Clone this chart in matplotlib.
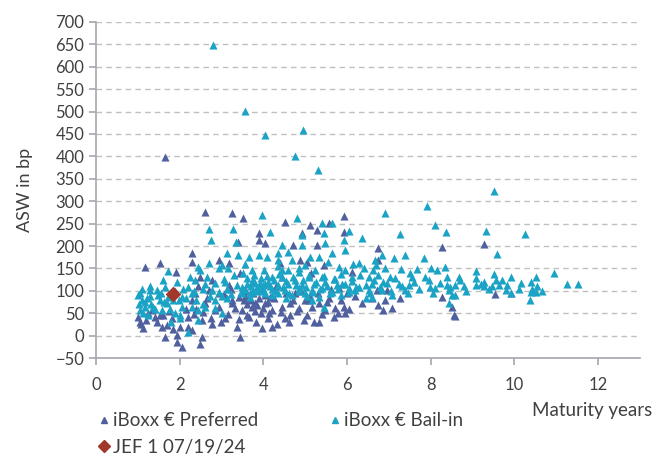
import matplotlib
matplotlib.use("Agg")
import matplotlib.pyplot as plt
from matplotlib.lines import Line2D

PREF_COLOR = "#50609e"
BAIL_COLOR = "#1ba3c6"
JEF_COLOR = "#a2372b"
TEXT_COLOR = "#404040"

# iBoxx € Preferred (maturity years, ASW bp)
pref_x = [1.17, 1.53, 1.91, 1.05, 1.01, 1.13, 1.57, 1.69, 1.65, 1.93, 1.93, 2.05, 1.41, 1.81, 2.01, 1.53, 1.33,
          1.65, 1.08, 1.2, 1.25, 1.45, 1.6, 1.75, 1.85,
          2.61, 3.25, 3.51, 3.90, 3.90, 2.29, 2.29, 2.93, 3.4, 4.04, 2.49, 2.77, 3.17, 3.72, 2.29, 2.61, 2.93,
          3.25, 3.49, 3.72, 4.04, 2.21, 2.53, 2.77, 3.09, 3.37, 3.65, 3.97, 4.21, 2.29, 2.53, 3.45, 2.49, 3.25,
          3.41, 3.53, 3.65, 3.8, 2.93, 2.69, 2.37, 4.13, 4.17, 3.17,
          3.6, 3.7, 3.8, 3.9, 4.0, 4.1, 4.2, 3.55, 3.85, 4.05,
          4.52, 5.12, 5.28, 5.56, 5.92, 5.92, 4.92, 4.72, 5.28, 4.40, 4.88, 5.04, 5.44, 6.12, 4.44, 4.64, 4.84,
          5.0, 5.16, 5.32, 5.48, 5.72, 5.92, 5.96, 4.64, 4.96, 5.32, 5.68, 4.32, 4.52, 5.08, 5.56, 5.8, 6.0,
          6.36, 4.76,
          6.74, 8.27, 6.75, 6.59, 6.75, 6.91, 7.07, 6.87, 7.27, 8.27, 8.55, 8.51, 6.71, 6.95,
          9.27, 9.53, 9.91, 8.59,
          2.55, 2.65, 2.75, 2.85, 2.98, 3.05, 3.15, 3.22, 3.32, 3.42, 3.58, 3.62, 3.75, 3.82, 3.95, 4.0, 4.12,
          4.25, 4.3, 4.42, 4.55, 4.62, 4.72, 4.8, 4.9, 5.05, 5.12, 5.2, 5.3, 5.4, 5.52, 5.62, 5.78, 5.85, 6.05,
          6.2, 2.4, 2.45, 2.2, 2.35, 3.45, 4.45, 5.15, 2.15]
pref_y = [153, 162, 143, 31, 42, 16, 20, 23, -3, 1, -14, -25, 42, 39, 20, 46, 57,
          398, 25, 35, 50, 30, 45, 55, 15,
          277, 273, 262, 228, 213, 184, 165, 169, 209, 206, 131, 124, 113, 120, 79, 72, 64,
          72, 57, 64, 72, 42, 35, 27, 39, 20, 42, 16, 20, 12, -3, -3, -18, 79,
          87, 79, 83, 72, 94, 102, 94, 50, 87, 161,
          70, 80, 55, 85, 62, 75, 58, 88, 68, 90,
          254, 247, 236, 252, 268, 232, 228, 202, 202, 161, 169, 165, 157, 142, 64, 72, 61,
          79, 64, 72, 57, 61, 64, 50, 46, 35, 31, 42, 27, 39, 79, 83, 106, 94,
          72, 94,
          195, 198, 169, 83, 68, 79, 61, 57, 83, 87, 46, 64, 102, 102,
          204, 93, 96, 44,
          52, 85, 40, 58, 30, 92, 48, 105, 62, 38, 100, 45, 95, 30, 50, 102, 40,
          85, 110, 52, 95, 30, 80, 55, 100, 45, 88, 30, 95, 48, 75, 105, 50, 80, 60,
          88, 60, 110, 20, 48, 140, 130, 140, 60]

# iBoxx € Bail-in
bail_x = [2.8, 3.55, 4.05, 4.95, 4.75, 5.3, 9.5, 7.9,
          1.72, 1.01, 1.09, 1.29, 1.45, 1.65, 1.93, 1.17, 1.37, 1.53, 1.69, 1.85, 2.05, 1.05, 1.25, 1.57, 1.89,
          2.01, 2.09, 2.05, 1.49, 1.21, 1.73,
          1.02, 1.06, 1.12, 1.18, 1.28, 1.32, 1.42, 1.55, 1.62, 1.78, 1.88, 1.98, 1.3, 1.1, 1.6, 1.8, 2.0,
          2.7, 3.28, 2.75, 3.35, 3.97, 4.17, 2.45, 2.69, 2.93, 3.13, 3.4, 3.65, 3.89, 4.09, 2.37, 2.61, 3.09,
          3.49, 3.57, 3.73, 3.89, 4.05, 4.21, 2.29, 2.45, 2.61, 2.85, 3.01, 3.13, 2.29, 2.21, 3.73, 4.01, 4.05,
          3.49, 3.69, 2.45, 2.21, 4.21, 3.01, 2.49, 2.77,
          3.6, 3.7, 3.8, 3.9, 4.0, 4.1, 3.75, 3.85, 3.95, 4.2,
          4.80, 5.4, 5.64, 5.44, 6.04, 4.92, 5.92, 5.94, 4.44, 4.92, 5.48, 6.36, 4.36, 4.6, 5.12, 5.32, 5.64,
          6.28, 4.36, 4.68, 5.0, 5.8, 4.6, 4.84, 5.24, 5.96, 6.4, 4.44, 4.76, 5.08, 5.4, 5.68, 6.12, 4.36, 4.6,
          4.92, 5.2, 5.48, 5.88, 6.28, 4.52, 4.84, 5.16, 5.4, 5.76, 6.04, 4.36, 4.68, 5.0, 5.32, 5.64, 6.2,
          5.16, 5.44, 4.44,
          6.91, 8.11, 8.37, 7.27, 7.38, 7.85, 7.11, 6.83, 6.67, 6.63, 6.91, 7.3, 7.67, 8.15, 8.35, 6.52, 6.75,
          7.03, 7.55, 7.87, 8.39, 6.59, 6.87, 7.23, 7.47, 7.99, 8.11, 8.39, 6.52, 6.83, 7.39, 8.43, 7.07, 6.59,
          8.51, 8.43,
          9.33, 10.26, 9.59, 9.08, 10.94, 8.67, 8.59, 8.79, 9.08, 9.08, 9.27, 9.27, 9.51, 9.55, 9.71, 9.63,
          9.47, 9.83, 9.91, 9.79, 9.91, 10.11, 10.15, 10.39, 10.43, 10.51, 10.55, 10.39, 10.51, 10.67, 10.37,
          11.26, 11.53, 8.59,
          2.55, 2.65, 2.72, 2.85, 2.95, 3.05, 3.12, 3.22, 3.3, 3.38, 3.46, 3.52, 3.62, 3.68, 3.78, 3.82, 3.92,
          4.02, 4.08, 4.15, 4.25, 4.3, 4.38, 4.47, 4.55, 4.62, 4.7, 4.78, 4.86, 4.95, 5.03, 5.1, 5.18, 5.25,
          5.35, 5.45, 5.52, 5.6, 5.7, 5.78, 5.85, 5.95, 6.05, 6.12, 6.22, 6.3, 6.45, 6.55, 6.65, 6.78, 6.95,
          7.05, 7.15, 7.32, 7.45, 7.6, 7.72, 7.95, 8.05, 8.22, 8.45, 8.7, 8.85, 9.2, 9.4, 3.15, 3.55, 4.35,
          4.85, 5.55, 6.15, 6.7, 2.4, 2.55, 2.85, 3.0, 2.35, 2.25, 2.15, 4.55, 5.05, 5.85, 6.45, 7.5, 8.0]
bail_y = [648, 502, 448, 458, 400, 370, 322, 290,
          144, 91, 79, 102, 102, 109, 120, 64, 64, 79, 72, 79, 64, 57, 46, 57, 50,
          39, 105, 87, 91, 83, 87,
          70, 95, 50, 75, 88, 70, 60, 95, 75, 60, 100, 80, 110, 105, 125, 30, 45,
          237, 237, 213, 209, 269, 232, 154, 161, 150, 184, 180, 176, 180, 176, 124, 116, 120,
          109, 102, 98, 102, 94, 90, 64, 57, 64, 79, 50, 83, 94, 109, 146, 146, 116,
          94, 87, 35, 9, 131, 158, 146, 102,
          115, 110, 118, 108, 112, 120, 125, 100, 128, 105,
          262, 252, 252, 230, 234, 224, 213, 191, 202, 202, 206, 217, 184, 187, 176, 176, 184,
          161, 169, 169, 158, 154, 146, 143, 146, 146, 150, 131, 124, 131, 131, 127, 131, 113, 116,
          113, 116, 120, 116, 109, 102, 106, 102, 106, 113, 106, 94, 90, 94, 87, 98, 102,
          79, 64, 146,
          273, 247, 232, 227, 180, 173, 173, 180, 169, 146, 150, 148, 148, 146, 154, 131, 135,
          131, 131, 131, 131, 116, 120, 116, 113, 109, 106, 113, 102, 102, 102, 102, 91, 87,
          91, 72,
          234, 226, 183, 145, 139, 131, 113, 110, 128, 113, 120, 110, 137, 124, 125, 113,
          110, 113, 130, 102, 94, 105, 118, 120, 105, 130, 110, 98, 98, 100, 80,
          116, 116, 91,
          105, 130, 88, 118, 98, 126, 104, 92, 135, 112, 97, 140, 128, 95, 135, 105, 118,
          99, 132, 111, 124, 100, 138, 108, 122, 96, 130, 112, 100, 125, 108, 136, 98, 120,
          104, 132, 110, 95, 126, 103, 138, 115, 98, 122, 108, 135, 112, 96, 125, 108, 118,
          100, 128, 110, 96, 120, 104, 125, 95, 118, 108, 125, 100, 115, 105, 150, 160, 155,
          150, 165, 160, 158, 80, 70, 62, 88, 100, 130, 85, 85, 88, 90, 85, 140, 150]

# JEF 1 07/19/24
jef_x = [1.83]
jef_y = [93]

plt.rcParams["font.family"] = ["Lato", "DejaVu Sans"]

fig = plt.figure(figsize=(6.56, 4.57), dpi=100)
ax = fig.add_axes([0.1463, 0.2166, 0.8293, 0.7353])

ax.scatter(pref_x, pref_y, marker="^", s=34, color=PREF_COLOR, linewidths=0, zorder=3)
ax.scatter(bail_x, bail_y, marker="^", s=34, color=BAIL_COLOR, linewidths=0, zorder=3)
ax.scatter(jef_x, jef_y, marker="D", s=64, color=JEF_COLOR, linewidths=0, zorder=4)

ax.set_xlim(0, 13)
ax.set_ylim(-50, 700)
ax.set_xticks(range(0, 13, 2))
ax.set_yticks(range(-50, 701, 50))
ax.grid(axis="y", linestyle=(0, (4, 3)), color="#c0c0c0", linewidth=1)
ax.set_axisbelow(True)

for side in ["top", "right"]:
    ax.spines[side].set_visible(False)
for side in ["left", "bottom"]:
    ax.spines[side].set_color("#a6a6b0")
    ax.spines[side].set_linewidth(1.2)

ax.tick_params(axis="both", colors="#a6a6b0", labelcolor=TEXT_COLOR, labelsize=12, length=5, width=1.2)
ax.tick_params(axis="x", pad=9)
ax.set_ylabel("ASW in bp", fontsize=13, color=TEXT_COLOR, labelpad=16)
fig.text(0.995, 0.102, "Maturity years", ha="right", va="center", fontsize=13.5, color=TEXT_COLOR)

handles = [
    Line2D([], [], linestyle="none", marker="^", markersize=5, color=PREF_COLOR, label="iBoxx € Preferred"),
    Line2D([], [], linestyle="none", marker="D", markersize=6, color=JEF_COLOR, label="JEF 1 07/19/24"),
    Line2D([], [], linestyle="none", marker="^", markersize=5, color=BAIL_COLOR, label="iBoxx € Bail-in"),
]
leg = fig.legend(handles=handles, ncol=2, loc="upper left", bbox_to_anchor=(0.150, 0.098),
                 frameon=False, fontsize=13.5, handlelength=0.6, handletextpad=0.2,
                 columnspacing=3.75, labelspacing=0.5, borderaxespad=0, borderpad=0)
for t in leg.get_texts():
    t.set_color(TEXT_COLOR)

fig.savefig("out.png", dpi=100)
